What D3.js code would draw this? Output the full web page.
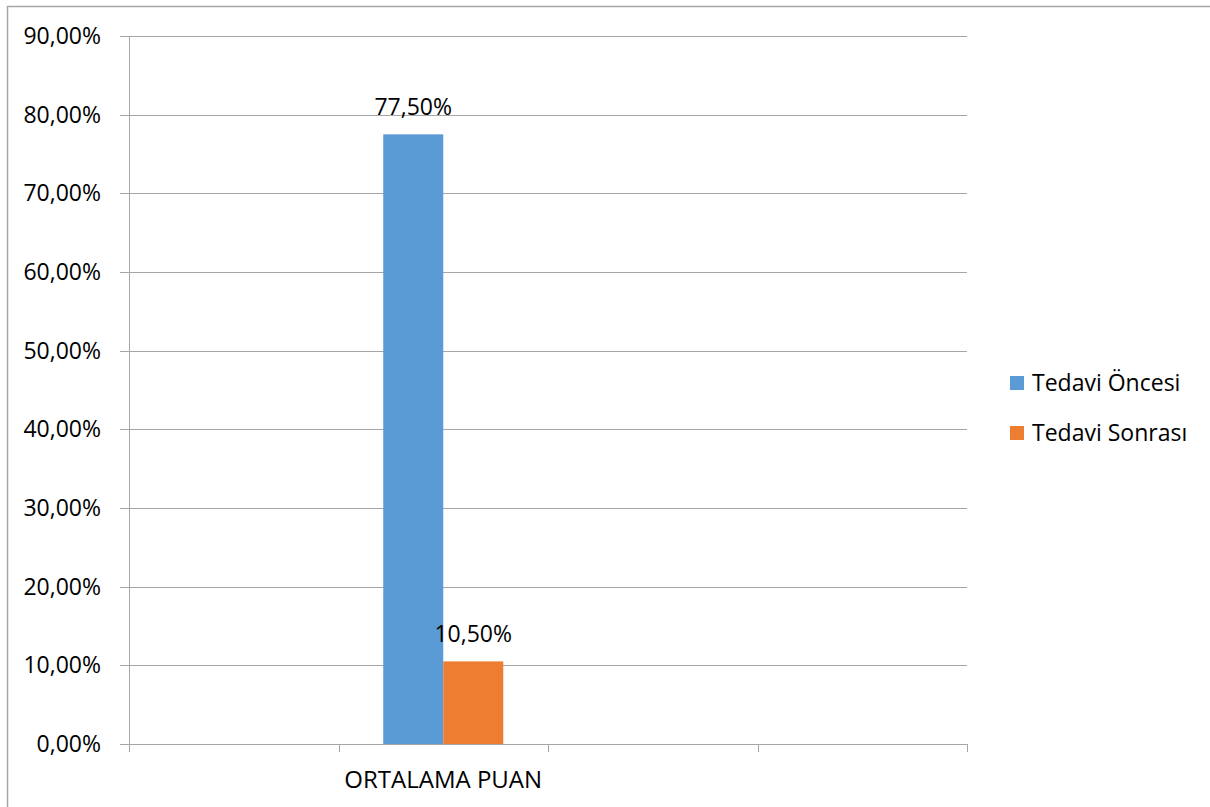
<!DOCTYPE html>
<html><head><meta charset="utf-8">
<script src="https://cdn.jsdelivr.net/npm/d3@7"></script>
<style>body{margin:0;background:#fff}svg{display:block}text{font-family:"Open Sans","Liberation Sans",sans-serif;fill:#000}</style>
</head><body>
<svg id="c" width="1210" height="807"></svg>
<script>
const categories = ["c0", "ORTALAMA PUAN", "c2", "c3"];
const categoryLabels = ["", "ORTALAMA PUAN", "", ""];
const seriesNames = ["Tedavi Öncesi", "Tedavi Sonrası"];
const seriesColors = ["#5B9BD5", "#ED7D31"];
const valuesOncesi = [null, 77.5, null, null];
const valuesSonrasi = [null, 10.5, null, null];
const yTicks = [0,10,20,30,40,50,60,70,80,90];

const svg = d3.select("#c");
svg.append("rect").attr("x",7.5).attr("y",6.5).attr("width",1300).attr("height",900)
  .attr("fill","none").attr("stroke","#a6a6a6").attr("stroke-width",1.5);

const L=129, R=967, T=36, B=744;
const FS = "23px";
const y = d3.scaleLinear().domain([0,90]).range([B,T]);
const x = d3.scaleBand().domain(categories).range([L,R]).paddingInner(0).paddingOuter(0);
const fmt = v => d3.format(".2f")(v).replace(".", ",") + "%";

const g = svg.append("g");
g.selectAll("line.grid").data(yTicks).join("line")
  .attr("x1",L-9).attr("x2",R).attr("y1",d=>Math.round(y(d))+0.5).attr("y2",d=>Math.round(y(d))+0.5)
  .attr("stroke","#a6a6a6").attr("stroke-width",1);
g.selectAll("text.ytick").data(yTicks).join("text")
  .attr("x",L-28).attr("y",d=>y(d)).attr("dy","0.35em").attr("text-anchor","end")
  .style("font-size",FS).text(d=>fmt(d));

g.append("line").attr("x1",L+0.5).attr("x2",L+0.5).attr("y1",T).attr("y2",B+8)
  .attr("stroke","#a6a6a6");
const xb = categories.map(c=>x(c)).concat([R]);
g.selectAll("line.xt").data(xb.slice(1)).join("line")
  .attr("x1",d=>Math.round(d)+0.5).attr("x2",d=>Math.round(d)+0.5).attr("y1",B).attr("y2",B+8)
  .attr("stroke","#a6a6a6");

const bw = 60;
const series = [valuesOncesi, valuesSonrasi];
series.forEach((vals,si)=>{
  const data = categories.map((c,i)=>({c,v:vals[i]})).filter(d=>d.v!=null);
  const xs = d=> x(d.c)+x.bandwidth()/2 - bw + si*bw;
  svg.selectAll("rect.s"+si).data(data).join("rect")
    .attr("x",xs).attr("width",bw).attr("y",d=>y(d.v)).attr("height",d=>B-y(d.v))
    .attr("fill",seriesColors[si]);
  svg.selectAll("text.l"+si).data(data).join("text")
    .attr("x",d=>xs(d)+bw/2).attr("y",d=>y(d.v)-19).attr("text-anchor","middle")
    .style("font-size",FS).text(d=>fmt(d.v));
});

svg.selectAll("text.xl").data(categories).join("text")
  .attr("x",c=>x(c)+x.bandwidth()/2).attr("y",788).attr("text-anchor","middle")
  .style("font-size","24px").text((c,i)=>categoryLabels[i]);

const lg = svg.append("g");
seriesNames.forEach((n,i)=>{
  lg.append("rect").attr("x",1010).attr("y",376+i*50).attr("width",14).attr("height",14).attr("fill",seriesColors[i]);
  lg.append("text").attr("x",1032).attr("y",383+i*50).attr("dy","0.35em").style("font-size",FS).text(n);
});
</script>
</body></html>
